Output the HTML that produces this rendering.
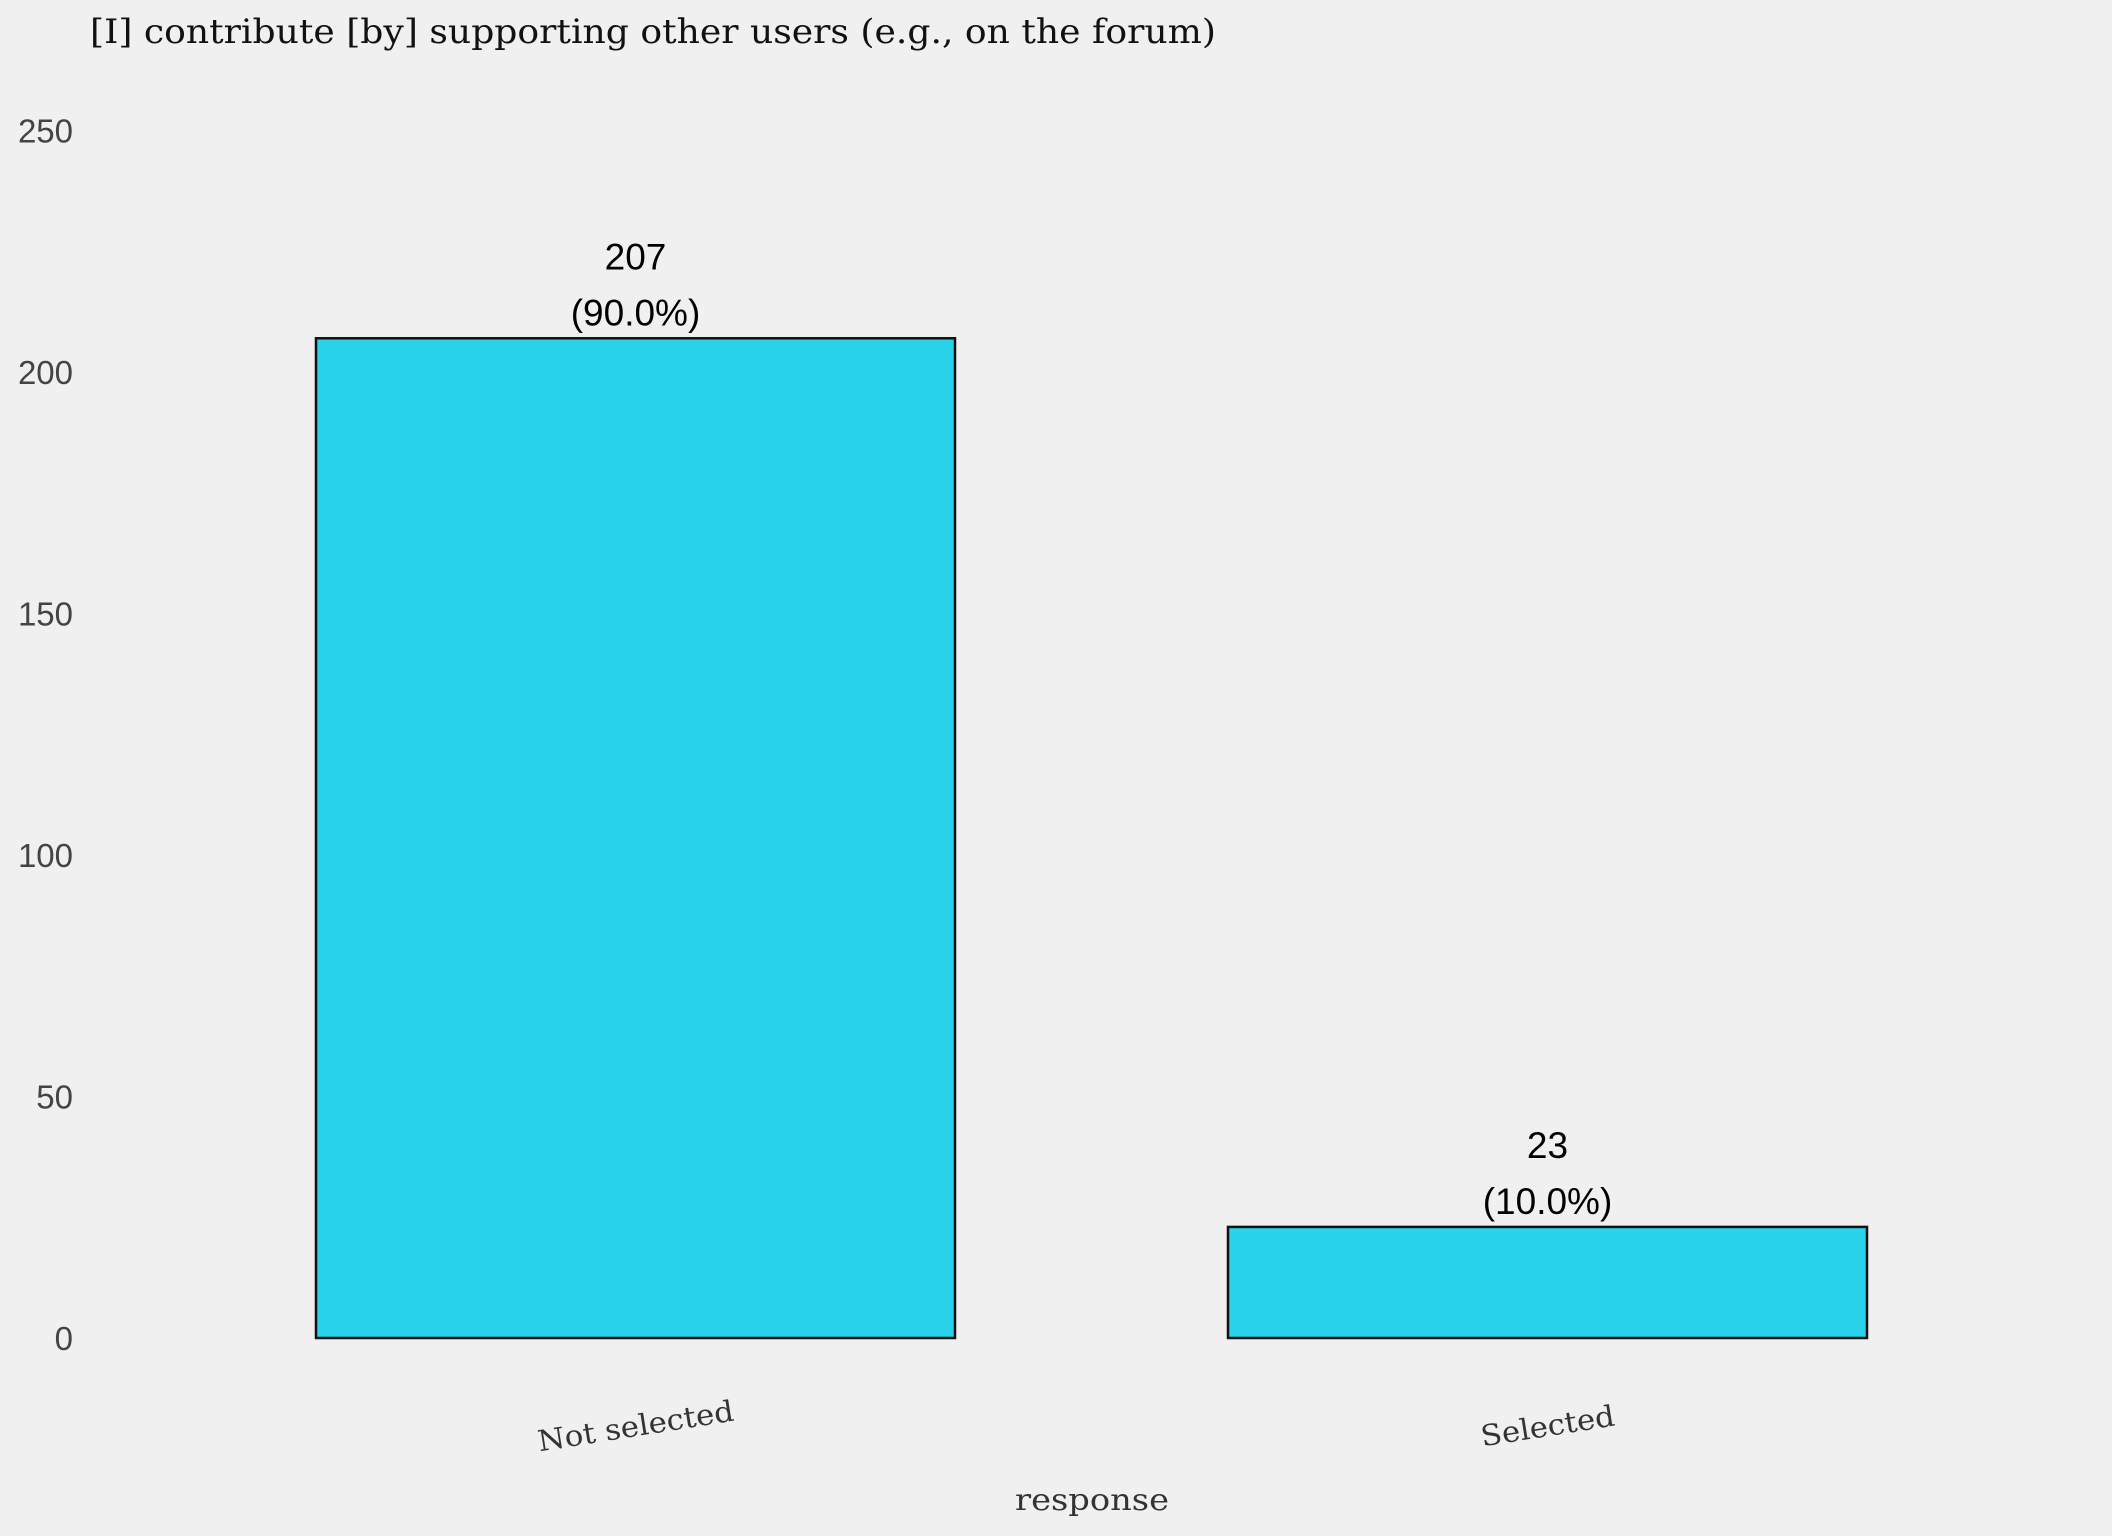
<!DOCTYPE html>
<html><head><meta charset="utf-8"><style>
body{margin:0;background:#f0f0f0;}
svg{display:block;}
</style></head><body>
<svg id="chart" width="2112" height="1536" viewBox="0 0 2112 1536">
<rect width="2112" height="1536" fill="#f0f0f0"/>
<text x="90" y="43" font-family="'DejaVu Serif', serif" font-size="34" fill="#111" textLength="1126" lengthAdjust="spacingAndGlyphs">[I] contribute [by] supporting other users (e.g., on the forum)</text>
<g id="yticks"></g>
<g id="bars"></g>
<text x="1092" y="1510" text-anchor="middle" font-family="'DejaVu Serif', serif" font-size="30" fill="#333" textLength="154" lengthAdjust="spacingAndGlyphs">response</text>
</svg>
<script>
const categories = ["Not selected", "Selected"];
const counts = [207, 23];
const percents = ["(90.0%)", "(10.0%)"];
const yTicks = [0, 50, 100, 150, 200, 250];

const NS = "http://www.w3.org/2000/svg";
const y0 = 1338, y250 = 130.6, yMax = 250;
function y(v){ return y0 - (v / yMax) * (y0 - y250); }
const bandLeft = 43, bandStep = 912, barW = 639, barOff = 273;
function xLeft(i){ return bandLeft + barOff + i * bandStep; }
function mk(tag, attrs, parent){ const e = document.createElementNS(NS, tag); for (const k in attrs) e.setAttribute(k, attrs[k]); parent.appendChild(e); return e; }

const yt = document.getElementById('yticks');
yTicks.forEach(t => {
  const e = mk('text', {x: 73, y: y(t) + 12, 'text-anchor': 'end', 'font-family': "'Liberation Sans', sans-serif", 'font-size': 33, fill: '#444'}, yt);
  e.textContent = t;
  
  
});

const bg = document.getElementById('bars');
const xlLen = [198, 135];
categories.forEach((c, i) => {
  const x = xLeft(i), top = y(counts[i]), cx = x + barW / 2;
  const r = mk('rect', {x: x, y: top, width: barW, height: y0 - top, fill: '#29d4eb', stroke: '#111', 'stroke-width': 2.5}, bg);
  
  
  const t1 = mk('text', {x: cx, y: top - 69, 'text-anchor': 'middle', 'font-family': "'Liberation Sans', sans-serif", 'font-size': 37, fill: '#000'}, bg);
  t1.textContent = counts[i];
  
  
  const t2 = mk('text', {x: cx, y: top - 13, 'text-anchor': 'middle', 'font-family': "'Liberation Sans', sans-serif", 'font-size': 37, fill: '#000'}, bg);
  t2.textContent = percents[i];
  
  
  const xl = mk('text', {x: cx, y: 1436, 'text-anchor': 'middle', 'font-family': "'DejaVu Serif', serif", 'font-size': 29, fill: '#333', textLength: xlLen[i], lengthAdjust: 'spacingAndGlyphs', transform: 'rotate(-9 ' + cx + ' 1425)'}, bg);
  xl.textContent = c;
  
  
});
</script>
</body></html>
